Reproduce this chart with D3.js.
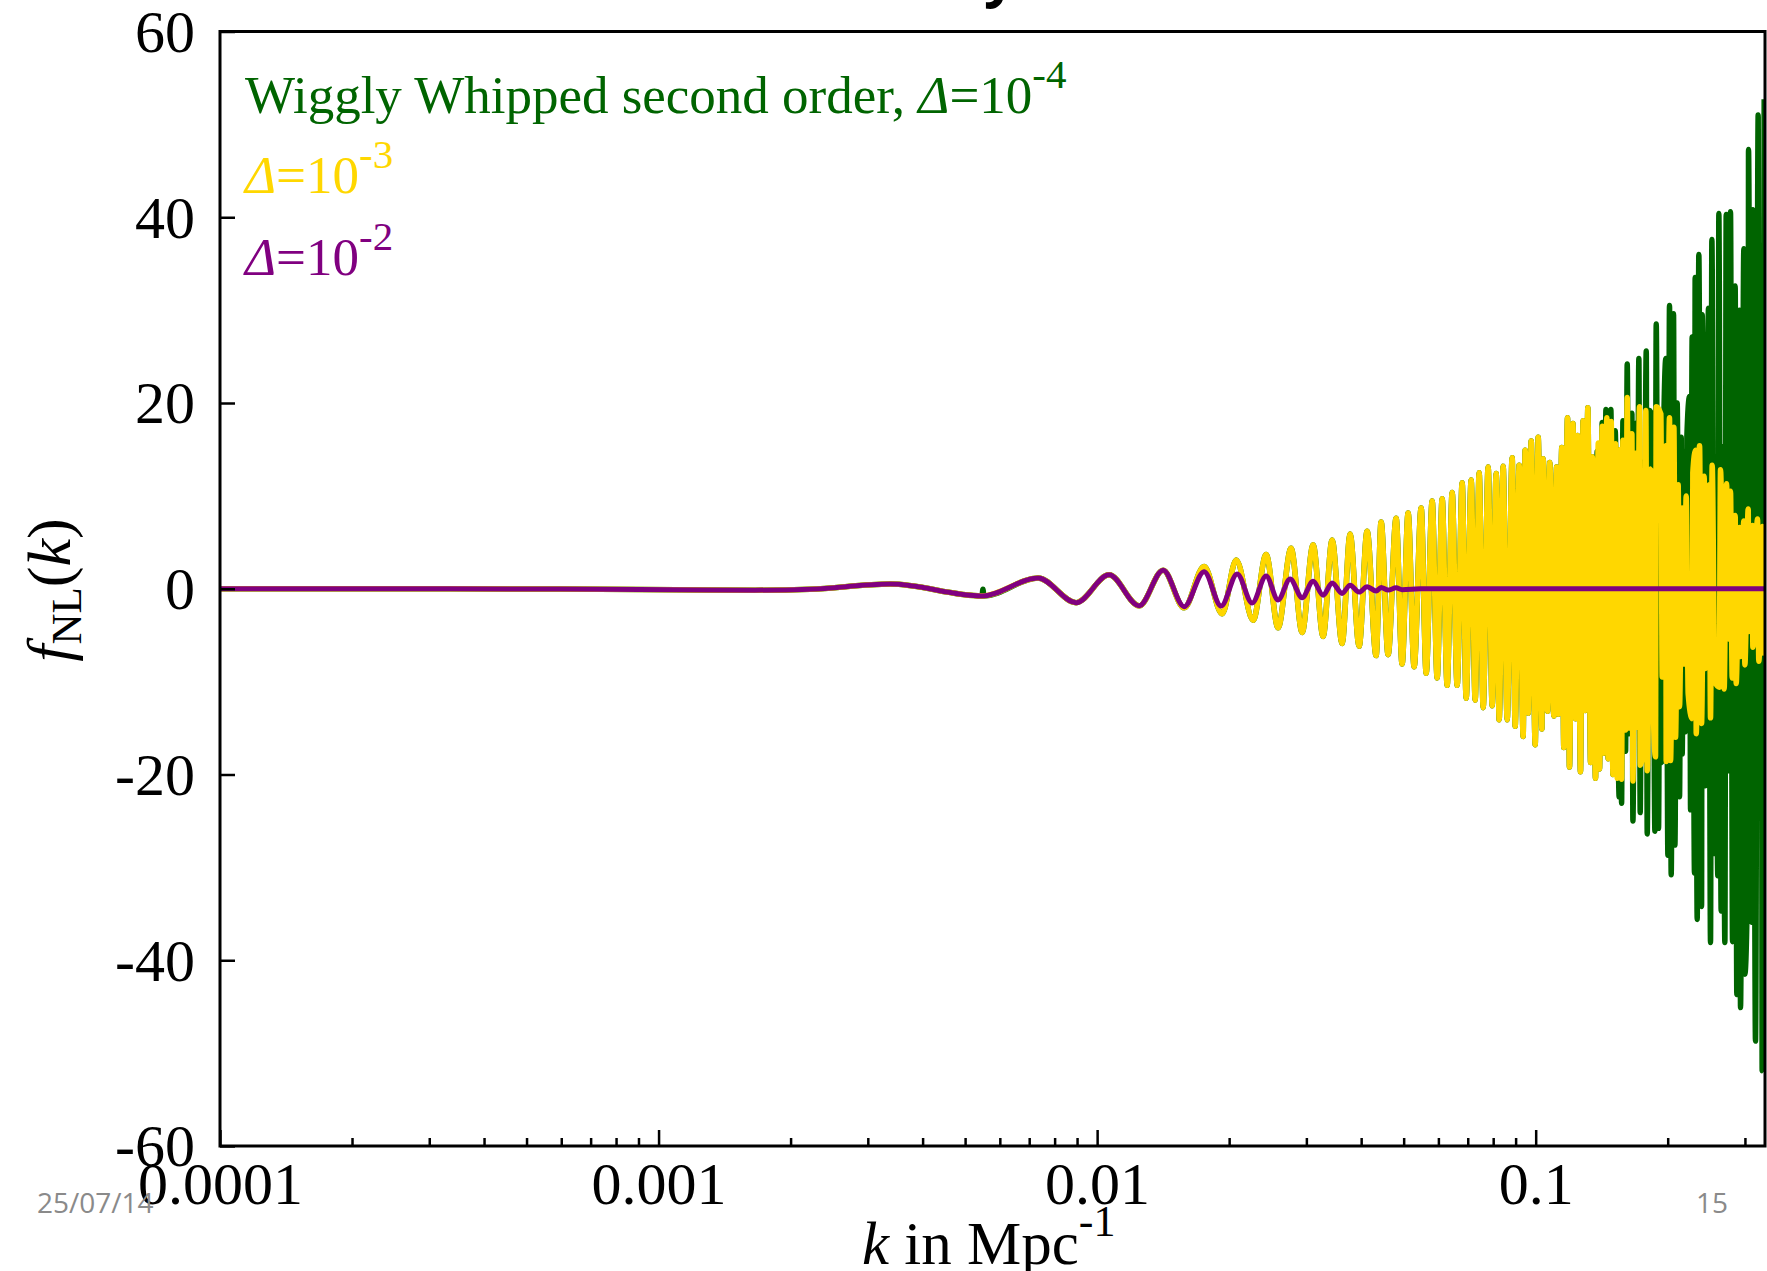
<!DOCTYPE html>
<html lang="en">
  <head>
    <meta charset="UTF-8" />
    <title>fNL(k) wiggly whipped</title>
    <script src="https://d3js.org/d3.v7.min.js"></script>
    <style>
      body { margin: 0; background: #fff; overflow: hidden; }
      svg text { font-family: "Liberation Serif", "Times New Roman", serif; }
    </style>
  </head>
  <body>
    <div class="chart"></div>
    <script>
      // tick labels
      const xTicks = [0.0001, 0.001, 0.01, 0.1];
      const xTickLabels = ["0.0001", "0.001", "0.01", "0.1"];
      const yTicks = [-60, -40, -20, 0, 20, 40, 60];

      // common part of all three curves (k, fNL)
      const sharedK = [0.0001, 0.0003346, 0.0005963, 0.001096, 0.00166, 0.002215, 0.003373,
        0.005465, 0.007334, 0.008954, 0.01065, 0.01247, 0.014143];
      const sharedF = [0, 0, -0.03, -0.1, -0.15, -0.05, 0.5,
        -0.78, 1.16, -1.5, 1.5, -1.84, 2.0];

      // Delta = 1e-2 (purple), damped tail
      const purpleK = [0.015793, 0.017538, 0.019176, 0.020861, 0.022569, 0.024285, 0.02586,
        0.027542, 0.029336, 0.03108, 0.032754, 0.034339, 0.03619, 0.037744, 0.039569,
        0.041269, 0.043265, 0.044416, 0.04608, 0.048056, 0.049596, 0.054531, 0.3333];
      const purpleF = [-1.93, 1.84, -1.86, 1.59, -1.54, 1.37, -1.2,
        1.05, -0.96, 0.8, -0.7, 0.63, -0.5, 0.39, -0.36,
        0.22, -0.25, 0.14, -0.14, 0.1, -0.1, 0, 0];

      // Delta = 1e-3 (gold), growing oscillation
      const goldK = [0.015793, 0.017538, 0.019277, 0.020752, 0.022688, 0.024285, 0.02586,
        0.027687, 0.029336, 0.03108, 0.032754, 0.034339, 0.03619, 0.037744, 0.039569,
        0.041269, 0.043265, 0.044416, 0.04608, 0.048056, 0.049596, 0.051183, 0.052822,
        0.054812, 0.05627, 0.058071, 0.059617, 0.0612, 0.06283, 0.0645, 0.066215,
        0.067975, 0.06942, 0.071265, 0.072776, 0.07432, 0.075898, 0.077916, 0.07957,
        0.081258, 0.082549, 0.0843, 0.08609, 0.088378, 0.08978, 0.091685, 0.09363,
        0.094618, 0.096138, 0.097667, 0.099738, 0.10132,
        0.1033, 0.1040, 0.1064, 0.1077, 0.1100, 0.1116, 0.1127, 0.1147, 0.1159, 0.1182,
        0.1194, 0.1216, 0.1233, 0.1246, 0.1265, 0.1283, 0.1297, 0.1315, 0.1334, 0.1346,
        0.1369, 0.1389, 0.1398, 0.1418, 0.1431, 0.1453, 0.1463, 0.1487, 0.1500, 0.1521,
        0.1534, 0.1559, 0.1570, 0.1581, 0.1603, 0.1617, 0.1634, 0.1657, 0.1666, 0.1689,
        0.1701, 0.1725, 0.1731, 0.1762, 0.1783, 0.1796, 0.1831, 0.1844, 0.1876, 0.1883,
        0.1930, 0.1943, 0.1981, 0.1984, 0.2019, 0.2030, 0.2066, 0.2084, 0.2113, 0.2128,
        0.2158, 0.2177, 0.2204, 0.2227, 0.2274, 0.2282, 0.2315, 0.2323, 0.2364, 0.2389,
        0.2422, 0.2435, 0.2487, 0.2504, 0.2526, 0.2562, 0.2621, 0.2639, 0.2690, 0.2724,
        0.2752, 0.2781, 0.2806, 0.2850, 0.2865, 0.2916, 0.2931, 0.2983, 0.2999, 0.3052,
        0.3062, 0.3122, 0.3127, 0.3205, 0.3227, 0.3290, 0.3314];
      const goldF = [-2.05, 2.4, -2.7, 3.1, -3.4, 3.7, -4.2,
        4.35, -4.7, 4.75, -5.15, 5.25, -5.9, 5.9, -6.2,
        6.2, -7.2, 7.2, -7.1, 7.6, -8.1, 8.15, -8.4,
        8.7, -9.1, 9.45, -9.6, 9.7, -10.4, 10.35, -10.4,
        11.4, -11.8, 11.7, -12.0, 12.5, -12.8, 13.1, -12.6,
        12.4, -14.1, 13.2, -14.1, 14.1, -14.8, 13.3, -15.9,
        14.9, -13.4, 15.9, -16.8, 16.3,
        -15.1, 14.0, -13.2, 13.6, -13.7, 13.1, -13.5, 15.2, -17.1, 18.4,
        -19.2, 17.8, -14.0, 16.5, -19.7, 18.1, -13.1, 19.5, -18.7, 14.2,
        -20.4, 15.7, -19.4, 17.5, -17.7, 18.4, -18.3, 18.0, -20.0, 15.6,
        -20.4, 15.0, -20.5, 16.0, -15.2, 20.6, -15.0, 16.7, -20.7, 14.6,
        -14.9, 19.6, -19.0, -16.7, 19.2, -19.6, 12.9, -7.1, -18.1, 19.6,
        18.8, -9.5, 15.4, -18.6, 18.4, -18.5, 17.4, -16.0, 11.2, -12.7,
        8.7, -8.1, 10.0, -11.3, -14.0, 12.5, 14.9, -15.6, 15.4, -14.5,
        12.1, -8.6, 11.2, -13.9, 13.3, -10.0, -10.6, 12.8, -10.8, 11.3,
        -5.4, 10.5, -9.6, 7.9, -10.2, 6.6, -7.3, 7.3, -8.2, 8.6,
        -4.6, 6.8, -6.3, 7.5, -7.8, 6.7, -7.2];

      // Delta = 1e-4 (green): small glitch near k=0.0055, then its own spikes past k~0.138
      const greenK = [0.00549, 0.00552,
        0.1381, 0.1398, 0.1418, 0.1431, 0.1446, 0.1463, 0.1484, 0.1500, 0.1518, 0.1550,
        0.1559, 0.1570, 0.1581, 0.1603, 0.1617, 0.1634, 0.1657, 0.1666, 0.1689, 0.1701,
        0.1719, 0.1731, 0.1749, 0.1762, 0.1787, 0.1796, 0.1818, 0.1847, 0.1870, 0.1883,
        0.1906, 0.1923, 0.1943, 0.1950, 0.1981, 0.2002, 0.2019, 0.2037, 0.2062, 0.2077,
        0.2102, 0.2128, 0.2147, 0.2158, 0.2177, 0.2204, 0.2212, 0.2243, 0.2255, 0.2274,
        0.2302, 0.2310, 0.2335, 0.2355, 0.2389, 0.2397, 0.2435, 0.2478, 0.2504, 0.2522,
        0.2557, 0.2566, 0.2602, 0.2616, 0.2648, 0.2667, 0.2700, 0.2719, 0.2752, 0.2781,
        0.2811, 0.2850, 0.2875, 0.2916, 0.2931, 0.2983, 0.2999, 0.3052, 0.3057, 0.3105,
        0.3127, 0.3171, 0.3216, 0.3227, 0.3273, 0.3284, 0.3319];
      const greenF = [-0.05, -0.78,
        14.8, -19.4, 17.9, -17.7, 19.3, -18.3, 19.3, -20.0, 17.0, -22.4,
        15.0, -23.1, 18.1, -17.5, 24.2, -15.6, 18.9, -25.0, 17.8, -14.8,
        24.8, -24.1, 13.6, -16.7, 25.6, -26.4, 19.2, 18.4, -26.1, 28.5,
        -25.8, 18.9, -18.7, 10.4, 24.8, -28.7, 30.5, -30.8, 29.6, -27.6,
        20.0, -22.4, 16.3, -17.8, 14.8, -15.4, 16.4, 20.7, -23.8, 27.1,
        -30.6, 33.5, -35.6, 36.0, -34.2, 29.5, -21.2, 30.2, -38.1, 37.6,
        -28.5, 11.5, -30.9, 40.4, -34.7, 15.3, -38.1, 40.3, -19.6, 40.6,
        -38.0, 32.6, -43.7, 30.0, -45.1, 36.6, -41.5, -25.2, 47.3, -35.9,
        40.8, -48.7, 51.0, -19.4, 7.5, -51.9, 52.7];

      // build the point lists
      const toPts = (ks, fs) => ks.map((k, i) => ({ k: k, f: fs[i] }));
      const byK = (a, b) => a.k - b.k;
      const shared = toPts(sharedK, sharedF);
      const goldPts = toPts(goldK, goldF);
      const purpleSeries = shared.concat(toPts(purpleK, purpleF));
      const goldSeries = shared.concat(goldPts);
      const greenSeries = shared
        .concat(goldPts.filter(d => d.k < 0.1375))
        .concat(toPts(greenK, greenF))
        .sort(byK);

      // SVG
      const svgWidth = 1767, svgHeight = 1271;
      const plotLeft = 220, plotRight = 1765, plotTop = 31.5, plotBottom = 1146;

      const svg = d3.select('.chart')
                    .append('svg')
                    .attr('width', svgWidth)
                    .attr('height', svgHeight);

      const xScale = d3.scaleLog().domain([0.0001, 1 / 3]).range([plotLeft, plotRight]);
      const yScale = d3.scaleLinear().domain([-60, 60]).range([plotBottom, plotTop]);

      // cropped slide title above the plot
      svg.append('text')
        .attr('x', 1000).attr('y', -4)
        .attr('text-anchor', 'middle')
        .style('font-family', '"Open Sans", "Liberation Sans", sans-serif')
        .style('font-weight', 'bold')
        .style('font-size', '56px')
        .text('y');

      svg.append('clipPath').attr('id', 'plotClip')
        .append('rect')
        .attr('x', plotLeft).attr('y', plotTop)
        .attr('width', plotRight - plotLeft).attr('height', plotBottom - plotTop);

      const line = d3.line()
        .x(d => xScale(d.k))
        .y(d => yScale(d.f))
        .curve(d3.curveMonotoneX);

      const lines = svg.append('g').attr('clip-path', 'url(#plotClip)');
      lines.append('path').datum(greenSeries)
        .attr('d', line).attr('fill', 'none')
        .attr('stroke', '#006400').attr('stroke-width', 5.5).attr('stroke-linejoin', 'bevel');
      lines.append('path').datum(goldSeries)
        .attr('d', line).attr('fill', 'none')
        .attr('stroke', '#ffd700').attr('stroke-width', 5.5).attr('stroke-linejoin', 'bevel');
      lines.append('path').datum(purpleSeries)
        .attr('d', line).attr('fill', 'none')
        .attr('stroke', '#800080').attr('stroke-width', 5).attr('stroke-linejoin', 'round');

      // axes
      const minorTicks = [];
      [0.0001, 0.001, 0.01, 0.1].forEach(dec => {
        for (let m = 2; m <= 9; m++) if (dec * m <= 1 / 3) minorTicks.push(dec * m);
      });

      const xAxisMinor = svg.append('g')
        .attr('transform', `translate(0,${plotBottom})`)
        .call(d3.axisBottom(xScale).tickValues(minorTicks).tickSize(-8).tickFormat(''));
      const xAxis = svg.append('g')
        .attr('transform', `translate(0,${plotBottom})`)
        .call(d3.axisBottom(xScale).tickValues(xTicks).tickSize(-16)
          .tickFormat((d, i) => xTickLabels[i]));
      const yAxis = svg.append('g')
        .attr('transform', `translate(${plotLeft},0)`)
        .call(d3.axisLeft(yScale).tickValues(yTicks).tickSize(-15).tickFormat(d => String(d)));

      [xAxisMinor, xAxis, yAxis].forEach(ax => {
        ax.select('.domain').remove();
        ax.selectAll('line').attr('stroke', '#000').attr('stroke-width', 2.5);
      });
      xAxis.selectAll('text')
        .attr('y', 58).attr('dy', null)
        .style('font-size', '60px').attr('fill', '#000');
      yAxis.selectAll('text')
        .attr('x', -25).attr('dy', '0.33em')
        .style('font-size', '60px').attr('fill', '#000');

      // frame
      svg.append('rect')
        .attr('x', plotLeft).attr('y', plotTop)
        .attr('width', plotRight - plotLeft).attr('height', plotBottom - plotTop)
        .attr('fill', 'none').attr('stroke', '#000').attr('stroke-width', 3);

      // legend text
      const legend = [
        { color: '#006400', pre: 'Wiggly Whipped second order, ', exp: '-4', y: 113 },
        { color: '#ffd700', pre: '', exp: '-3', y: 193 },
        { color: '#800080', pre: '', exp: '-2', y: 275 }
      ];
      legend.forEach(d => {
        const t = svg.append('text')
          .attr('x', 245).attr('y', d.y)
          .attr('fill', d.color)
          .style('font-size', '53px');
        if (d.pre) t.append('tspan').text(d.pre);
        t.append('tspan').style('font-style', 'italic').text('\u0394');
        t.append('tspan').text('=10');
        t.append('tspan').attr('dy', -25).style('font-size', '41px').text(d.exp);
      });

      // axis labels
      const yLabel = svg.append('text')
        .attr('transform', 'translate(70,590) rotate(-90)')
        .attr('text-anchor', 'middle')
        .style('font-size', '62px');
      yLabel.append('tspan').style('font-style', 'italic').text('f');
      yLabel.append('tspan').attr('dy', 11).style('font-size', '43px').text('NL');
      yLabel.append('tspan').attr('dy', -11).text('(');
      yLabel.append('tspan').style('font-style', 'italic').text('k');
      yLabel.append('tspan').text(')');

      const xLabel = svg.append('text')
        .attr('x', 862).attr('y', 1264)
        .style('font-size', '61px');
      xLabel.append('tspan').style('font-style', 'italic').text('k');
      xLabel.append('tspan').text(' in Mpc');
      xLabel.append('tspan').attr('dy', -28).style('font-size', '44px').text('-1');

      // slide footer
      svg.append('text')
        .attr('x', 37).attr('y', 1213)
        .style('font-family', '"Open Sans", sans-serif')
        .style('font-size', '28px').attr('fill', '#8a8a8a')
        .text('25/07/14');
      svg.append('text')
        .attr('x', 1696).attr('y', 1213)
        .style('font-family', '"Open Sans", sans-serif')
        .style('font-size', '28px').attr('fill', '#8a8a8a')
        .text('15');
    </script>
  </body>
</html>
